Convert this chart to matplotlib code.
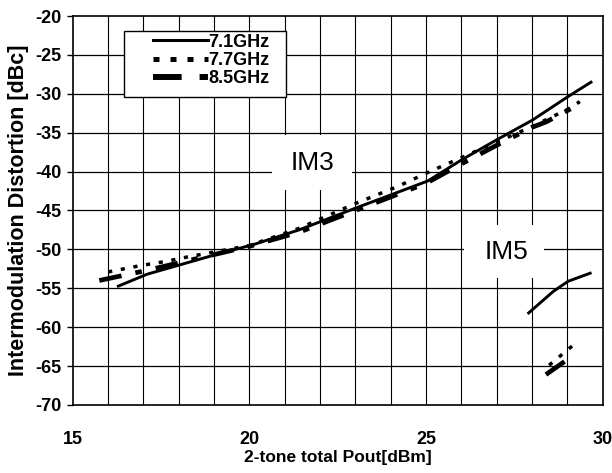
import matplotlib
matplotlib.use("Agg")
import matplotlib.pyplot as plt
from matplotlib.patches import Rectangle
from matplotlib.lines import Line2D

plt.rcParams['font.family'] = ['Liberation Sans', 'DejaVu Sans']
plt.rcParams['axes.unicode_minus'] = False

# IM3 data
x71_im3 = [16.25, 17.1, 19.1, 20.1, 21.4, 23.0, 25.05, 26.0, 27.0, 28.0, 29.0, 29.7]
y71_im3 = [-54.8, -53.2, -50.6, -49.4, -47.5, -44.7, -41.2, -38.5, -35.9, -33.4, -30.4, -28.4]
x77_im3 = [16.0, 16.9, 17.7, 18.1, 20.0, 21.4, 23.0, 24.2, 25.15, 25.95, 27.0, 28.0, 29.0, 29.35]
y77_im3 = [-52.9, -52.1, -51.5, -51.1, -49.5, -47.3, -44.1, -41.9, -39.9, -38.3, -36.2, -34.2, -32.0, -31.0]
x85_im3 = [15.75, 17.1, 18.5, 20.0, 21.4, 23.0, 25.0, 26.0, 27.0, 28.0, 28.4, 29.1]
y85_im3 = [-54.0, -52.7, -51.2, -49.6, -47.8, -45.0, -41.5, -39.0, -36.6, -34.3, -33.6, -31.9]
# IM5 data
x71_im5 = [27.87, 28.6, 29.02, 29.68]
y71_im5 = [-58.3, -55.4, -54.1, -53.0]
x77_im5 = [28.48, 29.3]
y77_im5 = [-64.9, -61.8]
x85_im5 = [28.39, 29.05]
y85_im5 = [-66.1, -64.0]

labels = ['7.1GHz', '7.7GHz', '8.5GHz']
xticks = [15, 20, 25, 30]
yticks = [-70, -65, -60, -55, -50, -45, -40, -35, -30, -25, -20]

fig = plt.figure(figsize=(6.12, 4.73), dpi=100)
ax = fig.add_axes([0.119, 0.144, 0.866, 0.822])
ax.set_xlim(15, 30)
ax.set_ylim(-70, -20)

for v in range(16, 30):
    ax.axvline(v, color='black', lw=0.8, zorder=1)
for v in range(-65, -20, 5):
    ax.axhline(v, color='black', lw=0.9, zorder=1)

# white label boxes
ax.add_patch(Rectangle((20.63, -42.4), 2.27, 7.1, facecolor='white', edgecolor='none', zorder=2))
ax.add_patch(Rectangle((26.07, -53.68), 2.26, 6.82, facecolor='white', edgecolor='none', zorder=2))
ax.text(21.77, -38.85, 'IM3', fontsize=19, ha='center', va='center', zorder=4)
ax.text(27.27, -50.3, 'IM5', fontsize=19, ha='center', va='center', zorder=4)

s1 = dict(color='black', lw=2.1, ls='-', solid_capstyle='butt')
s2 = dict(color='black', lw=2.5, ls=(0, (1.2, 2.5)))
s3 = dict(color='black', lw=3.4, ls=(0, (4.8, 3.0, 1.4, 3.0)))

l1, = ax.plot(x71_im3, y71_im3, zorder=3, **s1)
l2, = ax.plot(x77_im3, y77_im3, zorder=3, **s2)
l3, = ax.plot(x85_im3, y85_im3, zorder=3, **s3)
ax.plot(x71_im5, y71_im5, zorder=3, **s1)
ax.plot(x77_im5, y77_im5, zorder=3, **s2)
ax.plot(x85_im5, y85_im5, zorder=3, **s3)

# legend box
ax.add_patch(Rectangle((0.096, 0.792), 0.306, 0.170, transform=ax.transAxes,
                       facecolor='white', edgecolor='black', lw=1.0, zorder=5))
h1 = Line2D([], [], color='black', lw=2.2, ls='-')
h2 = Line2D([], [], color='black', lw=3.6, ls=(0, (1.2, 2.2)))
h3 = Line2D([], [], color='black', lw=4.3, ls=(0, (4.8, 3.0, 1.4, 3.0)))
leg = ax.legend([h1, h2, h3], labels, loc='upper left', bbox_to_anchor=(0.152, 0.955),
                frameon=False, prop={'weight': 'bold', 'size': 13}, handlelength=3.0,
                handletextpad=0.05, labelspacing=0.08, borderpad=0, borderaxespad=0)
leg.set_zorder(6)

ax.set_xticks(xticks)
ax.set_yticks(yticks)
ax.tick_params(axis='x', length=0, pad=19, labelsize=13)
ax.tick_params(axis='y', direction='out', length=4, width=1, pad=4, labelsize=13)
for t in ax.get_xticklabels() + ax.get_yticklabels():
    t.set_fontweight('bold')
for s in ax.spines.values():
    s.set_linewidth(1.2)
ax.set_xlabel('2-tone total Pout[dBm]', fontsize=12.5, fontweight='bold', labelpad=1)
ax.set_ylabel('Intermodulation Distortion [dBc]', fontsize=15.5, fontweight='bold', labelpad=5)

fig.savefig('out.png', dpi=100)
